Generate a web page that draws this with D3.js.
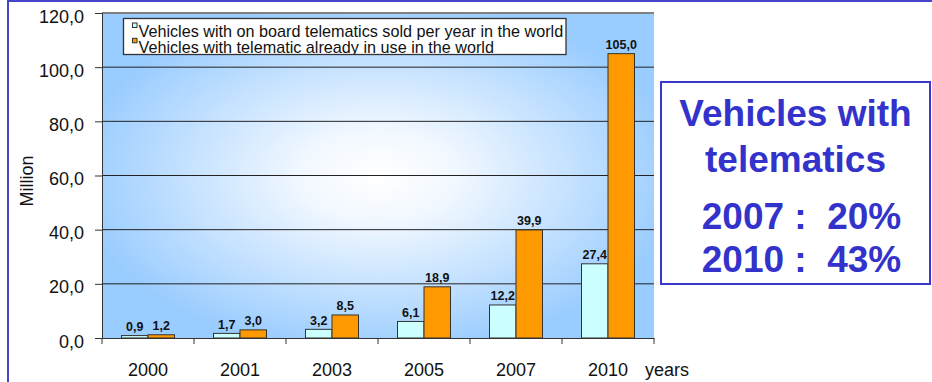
<!DOCTYPE html>
<html>
<head>
<meta charset="utf-8">
<script src="https://cdn.jsdelivr.net/npm/d3@7"></script>
<style>
  body { margin: 0; background: #fff; }
  svg text { font-family: "Liberation Sans", Arial, sans-serif; }
</style>
</head>
<body>
<svg id="chart" width="932" height="382"></svg>
<script>
// data
const years = ["2000", "2001", "2003", "2005", "2007", "2010"];
const soldPerYear = [0.9, 1.7, 3.2, 6.1, 12.2, 27.4];
const inUse = [1.2, 3.0, 8.5, 18.9, 39.9, 105.0];
const seriesNames = [
  "Vehicles with on board telematics sold per year in the world",
  "Vehicles with telematic already in use in the world"
];
const yTicks = [0, 20, 40, 60, 80, 100, 120];
const boxLines = ["Vehicles with", "telematics", "2007 :  20%", "2010 :  43%"];

const colors = ["#CCFFFF", "#FF9900"];
const plot = {left: 102, right: 654, top: 13, bottom: 338};

const svg = d3.select("#chart");
const comma = v => d3.format(".1f")(v).replace(".", ",");

// outer frame (only top and left edges visible)
svg.append("rect")
  .attr("x", 8).attr("y", 1)
  .attr("width", 940).attr("height", 400)
  .attr("fill", "none")
  .attr("stroke", "#4646CC")
  .attr("stroke-width", 2);

let x0 = d3.scaleBand()
  .domain(years)
  .range([plot.left, plot.right]);
let x1 = d3.scaleBand()
  .domain([0, 1])
  .range([x0.bandwidth() / 2 - 26.5, x0.bandwidth() / 2 + 26.5]);
let y = d3.scaleLinear()
  .domain([0, 120])
  .range([plot.bottom, plot.top]);

// plot background gradient
let defs = svg.append("defs");
let grad = defs.append("radialGradient")
  .attr("id", "bg")
  .attr("cx", 0.5).attr("cy", 0.5).attr("r", 0.55);
grad.append("stop").attr("offset", 0).attr("stop-color", "#ffffff");
grad.append("stop").attr("offset", 0.25).attr("stop-color", "#f2f8ff");
grad.append("stop").attr("offset", 1).attr("stop-color", "#99CCFF");

svg.append("rect")
  .attr("x", plot.left).attr("y", plot.top)
  .attr("width", plot.right - plot.left)
  .attr("height", plot.bottom - plot.top)
  .attr("fill", "url(#bg)");

// gridlines
svg.append("g")
  .selectAll("line")
  .data(yTicks.filter(d => d > 0))
  .join("line")
  .attr("x1", plot.left).attr("x2", plot.right)
  .attr("y1", d => y(d)).attr("y2", d => y(d))
  .attr("stroke", d => d == 120 ? "#808080" : "#222")
  .attr("stroke-width", d => d == 120 ? 2 : 1);

// y axis
let yAxis = d3.axisLeft(y)
  .tickValues(yTicks)
  .tickSize(7)
  .tickPadding(11)
  .tickFormat(comma);
let gy = svg.append("g")
  .attr("transform", "translate(" + plot.left + ",0)")
  .call(yAxis);
gy.select(".domain").attr("stroke", "#333");
gy.selectAll(".tick line").attr("stroke", "#333");
gy.selectAll("text")
  .attr("dy", "0.5em")
  .style("font-size", "18px")
  .attr("fill", "#111");

svg.append("text")
  .attr("transform", "translate(33,181) rotate(-90)")
  .attr("text-anchor", "middle")
  .style("font-size", "18px")
  .attr("fill", "#111")
  .text("Million");

// bars
let groups = svg.append("g")
  .selectAll("g")
  .data(years)
  .join("g")
  .attr("transform", d => "translate(" + x0(d) + ",0)");

[soldPerYear, inUse].forEach(function(series, s) {
  groups.append("rect")
    .attr("x", x1(s))
    .attr("y", (d, i) => y(series[i]))
    .attr("width", x1.bandwidth())
    .attr("height", (d, i) => y(0) - y(series[i]))
    .attr("fill", colors[s])
    .attr("stroke", "#333")
    .attr("stroke-width", 1);
  groups.append("text")
    .attr("x", x1(s) + x1.bandwidth() / 2)
    .attr("y", (d, i) => y(series[i]) - 4.5)
    .attr("text-anchor", "middle")
    .style("font-size", "12.5px")
    .style("font-weight", "bold")
    .attr("fill", "#111")
    .text((d, i) => comma(series[i]));
});

// x axis
let xAxis = d3.axisBottom(x0)
  .tickSize(0)
  .tickPadding(25);
let gx = svg.append("g")
  .attr("transform", "translate(0," + plot.bottom + ")")
  .call(xAxis);
gx.select(".domain").attr("stroke", "#333");
gx.selectAll("text")
  .style("font-size", "18px")
  .attr("fill", "#111");
gx.selectAll(".edge")
  .data(years.map(d => x0(d)).concat([plot.right]))
  .join("line")
  .attr("class", "edge")
  .attr("x1", d => d).attr("x2", d => d)
  .attr("y1", 0).attr("y2", 6)
  .attr("stroke", "#333");

svg.append("text")
  .attr("x", 645).attr("y", 375.5)
  .style("font-size", "18px")
  .attr("fill", "#111")
  .text("years");

// legend
defs.append("clipPath").attr("id", "legclip")
  .append("rect")
  .attr("x", 123.5).attr("y", 18.5)
  .attr("width", 442.5).attr("height", 36);
let legend = svg.append("g");
legend.append("rect")
  .attr("x", 123.5).attr("y", 18.5)
  .attr("width", 442.5).attr("height", 36)
  .attr("fill", "#fff");
let items = legend.append("g")
  .attr("clip-path", "url(#legclip)")
  .selectAll("g")
  .data(seriesNames)
  .join("g")
  .attr("transform", (d, i) => "translate(0," + (i * 15.3) + ")");
items.append("rect")
  .attr("x", 132.5).attr("y", 23)
  .attr("width", 4.5).attr("height", 4.5)
  .attr("fill", (d, i) => colors[i])
  .attr("stroke", "#333")
  .attr("stroke-width", 1);
items.append("text")
  .attr("x", 138.5).attr("y", 37.3)
  .style("font-size", "16.2px")
  .attr("fill", "#111")
  .text(d => d);
legend.append("rect")
  .attr("x", 123.5).attr("y", 18.5)
  .attr("width", 442.5).attr("height", 36)
  .attr("fill", "none")
  .attr("stroke", "#333")
  .attr("stroke-width", 1.3);

// side box
svg.append("rect")
  .attr("x", 661).attr("y", 82)
  .attr("width", 269).attr("height", 202)
  .attr("fill", "#fff")
  .attr("stroke", "#3838CC")
  .attr("stroke-width", 2);
const boxBaselines = [126, 172, 228.5, 272];
svg.append("g")
  .selectAll("text")
  .data(boxLines)
  .join("text")
  .attr("x", (d, i) => i < 2 ? 795.5 : 801.5)
  .attr("y", (d, i) => boxBaselines[i])
  .attr("text-anchor", "middle")
  .style("font-size", "37px")
  .style("font-weight", "bold")
  .style("white-space", "pre")
  .attr("fill", "#3333CC")
  .text(d => d);
</script>
</body>
</html>
